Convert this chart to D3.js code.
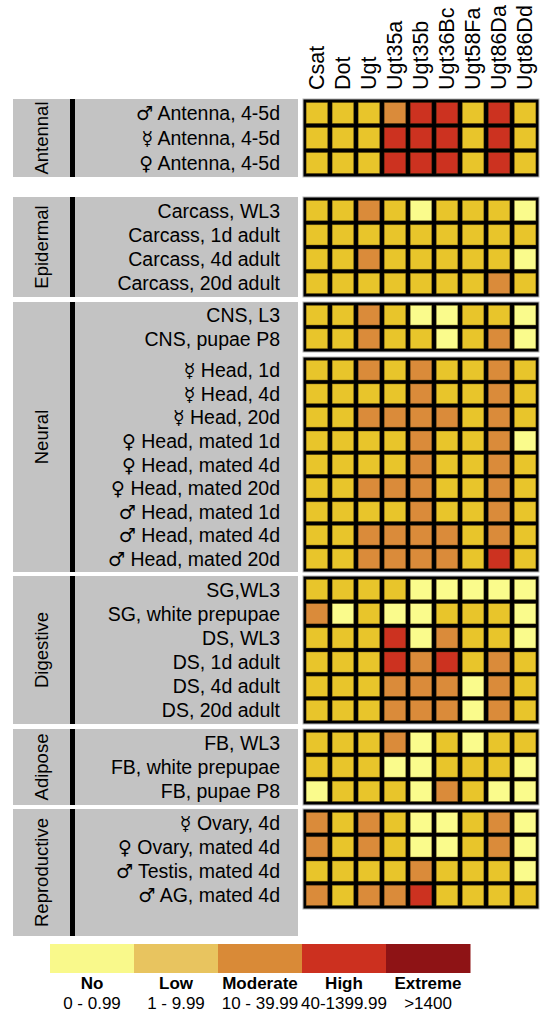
<!DOCTYPE html>
<html>
<head>
<meta charset="utf-8">
<script src="https://cdn.jsdelivr.net/npm/d3@7"></script>
<style>
  html, body { margin: 0; padding: 0; background: #fff; }
  svg { display: block; font-family: "Liberation Sans", Arial, Helvetica, sans-serif; }
</style>
</head>
<body>
<svg id="chart" width="544" height="1013"></svg>
<script>
// Genes (columns)
var genes = ["Csat", "Dot", "Ugt", "Ugt35a", "Ugt35b", "Ugt36Bc", "Ugt58Fa", "Ugt86Da", "Ugt86Dd"];

// Tissue groups (grey panels) and the heat blocks inside them
var panelNames = ["Antennal", "Epidermal", "Neural", "Digestive", "Adipose", "Reproductive"];
var blockSizes = [3, 4, 2, 9, 6, 3, 4];
var blockPanel = [0, 1, 2, 2, 3, 4, 5];

// Tissue labels (rows)
var tissues = [
  "\u2642 Antenna, 4-5d", "\u263F Antenna, 4-5d", "\u2640 Antenna, 4-5d",
  "Carcass, WL3", "Carcass, 1d adult", "Carcass, 4d adult", "Carcass, 20d adult",
  "CNS, L3", "CNS, pupae P8",
  "\u263F Head, 1d", "\u263F Head, 4d", "\u263F Head, 20d",
  "\u2640 Head, mated 1d", "\u2640 Head, mated 4d", "\u2640 Head, mated 20d",
  "\u2642 Head, mated 1d", "\u2642 Head, mated 4d", "\u2642 Head, mated 20d",
  "SG,WL3", "SG, white prepupae", "DS, WL3", "DS, 1d adult", "DS, 4d adult", "DS, 20d adult",
  "FB, WL3", "FB, white prepupae", "FB, pupae P8",
  "\u263F Ovary, 4d", "\u2640 Ovary, mated 4d", "\u2642 Testis, mated 4d", "\u2642 AG, mated 4d"
];

// Expression level per tissue x gene (0 No, 1 Low, 2 Moderate, 3 High, 4 Extreme)
var levels = [
  [1,1,1,2,3,3,1,3,1],
  [1,1,1,3,3,3,1,3,1],
  [1,1,1,3,3,3,1,3,1],
  [1,1,2,1,0,1,1,1,0],
  [1,1,1,1,1,1,1,1,1],
  [1,1,2,1,1,1,1,1,0],
  [1,1,1,1,1,1,1,2,1],
  [1,1,2,1,0,0,1,1,0],
  [1,1,2,1,1,0,1,2,0],
  [1,1,2,1,2,1,1,2,1],
  [1,1,1,1,2,1,1,2,1],
  [1,1,2,2,2,2,1,2,1],
  [1,1,1,1,2,1,1,2,0],
  [1,1,1,1,2,1,1,2,1],
  [1,1,2,2,2,1,1,2,1],
  [1,1,1,1,2,1,1,2,1],
  [1,1,2,2,2,2,1,2,1],
  [1,1,2,2,2,2,1,3,1],
  [1,1,1,1,0,0,0,0,0],
  [2,0,1,0,0,1,1,1,0],
  [1,1,1,3,0,2,1,1,0],
  [1,1,1,3,2,3,1,2,1],
  [1,1,1,2,2,2,0,2,1],
  [1,1,1,2,2,2,0,2,1],
  [1,1,1,2,0,1,0,1,1],
  [1,1,1,0,0,1,1,1,0],
  [0,1,1,1,0,2,1,0,0],
  [2,1,2,1,0,0,1,2,0],
  [2,1,2,1,0,0,1,2,0],
  [1,1,1,1,2,1,1,1,0],
  [2,1,2,2,3,1,1,1,1]
];

// Legend
var levelNames = ["No", "Low", "Moderate", "High", "Extreme"];
var levelRanges = ["0 - 0.99", "1 - 9.99", "10 - 39.99", "40-1399.99", ">1400"];
var cellColors = ["#fafb8c", "#e8c52b", "#da8b3a", "#cc3220", "#8e1315"];
var legendColors = ["#f9f98b", "#e8c45f", "#d98a37", "#cc301f", "#8e1315"];

// Layout
var blockTop = [99, 197, 302, 357, 576, 729, 809];
var blockBottom = [177, 297, 352, 572, 724, 805, 909];
var panelLeft = 13, panelRight = 298, barX = 70, barW = 5;
var heatLeft = 303, heatRight = 539;
var symbols = "\u2642\u2640\u263F";

var svg = d3.select("#chart");

var x = d3.scaleBand().domain(genes).range([heatLeft, heatRight])
  .paddingInner(0.17).paddingOuter(0.12);

var color = d3.scaleOrdinal().domain(d3.range(5)).range(cellColors);

// Filas por bloque
var blocks = [];
var start = 0;
blockSizes.forEach(function (n, b) {
  var rows = d3.range(start, start + n);
  var y = d3.scaleBand().domain(rows).range([blockTop[b], blockBottom[b]])
    .paddingInner(0.16).paddingOuter(0.14);
  blocks.push({ index: b, rows: rows, y: y, top: blockTop[b], bottom: blockBottom[b], panel: blockPanel[b] });
  start += n;
});

// Paneles grises
var panels = panelNames.map(function (name, p) {
  var bs = blocks.filter(function (d) { return d.panel === p; });
  var top = d3.min(bs, function (d) { return d.top; });
  var bottom = d3.max(bs, function (d) { return d.bottom; });
  if (name === "Reproductive") bottom = 936;
  return { name: name, top: top, bottom: bottom };
});

var panelG = svg.append("g").attr("class", "panels");

panelG.selectAll("rect.panel")
  .data(panels).enter().append("rect")
  .attr("class", "panel")
  .attr("x", panelLeft).attr("y", function (d) { return d.top; })
  .attr("width", panelRight - panelLeft)
  .attr("height", function (d) { return d.bottom - d.top; })
  .attr("fill", "#c3c3c3");

panelG.selectAll("rect.bar")
  .data(panels).enter().append("rect")
  .attr("class", "bar")
  .attr("x", barX).attr("y", function (d) { return d.top; })
  .attr("width", barW)
  .attr("height", function (d) { return d.bottom - d.top; })
  .attr("fill", "#000");

panelG.selectAll("text.group")
  .data(panels).enter().append("text")
  .attr("class", "group")
  .attr("transform", function (d) {
    return "translate(48," + ((d.top + d.bottom) / 2) + ") rotate(-90)";
  })
  .attr("text-anchor", "middle")
  .style("font-size", "18.5px")
  .style("fill", "#000")
  .text(function (d) { return d.name; });

// Etiquetas de tejido
blocks.forEach(function (blk) {
  var t = svg.append("g").selectAll("text")
    .data(blk.rows).enter().append("text")
    .attr("x", 280)
    .attr("y", function (r) { return blk.y(r) + blk.y.bandwidth() / 2; })
    .attr("dy", "0.36em")
    .attr("text-anchor", "end")
    .style("font-size", "19.5px")
    .style("fill", "#000");

  t.each(function (r) {
    var label = tissues[r];
    var el = d3.select(this);
    if (symbols.indexOf(label[0]) >= 0) {
      el.append("tspan")
        .style("font-family", "'DejaVu Sans', sans-serif")
        .style("font-size", "19px")
        .text(label[0]);
      el.append("tspan").text(label.slice(1));
    } else {
      el.text(label);
    }
  });
});

// Bloques del heatmap
blocks.forEach(function (blk) {
  var g = svg.append("g").attr("class", "block");
  g.append("rect")
    .attr("x", heatLeft).attr("y", blk.top)
    .attr("width", heatRight - heatLeft)
    .attr("height", blk.bottom - blk.top)
    .attr("fill", "#000")
    .attr("stroke", "#b5b5b5").attr("stroke-width", 1);

  var cells = [];
  blk.rows.forEach(function (r) {
    genes.forEach(function (gname, c) {
      cells.push({ row: r, gene: gname, level: levels[r][c] });
    });
  });

  g.selectAll("rect.cell")
    .data(cells).enter().append("rect")
    .attr("class", "cell")
    .attr("x", function (d) { return x(d.gene); })
    .attr("y", function (d) { return blk.y(d.row); })
    .attr("width", x.bandwidth())
    .attr("height", blk.y.bandwidth())
    .attr("fill", function (d) { return color(d.level); })
    .attr("stroke", "rgba(60,40,0,0.45)")
    .attr("stroke-width", 0.8);
});

// Encabezados de columnas
svg.append("g").selectAll("text")
  .data(genes).enter().append("text")
  .attr("transform", function (d) {
    return "translate(" + (x(d) + x.bandwidth() / 2 + 7) + ",90) rotate(-90)";
  })
  .attr("text-anchor", "start")
  .style("font-size", "21.5px")
  .style("fill", "#000")
  .text(function (d) { return d; });

// Leyenda
var lx = d3.scaleBand().domain(d3.range(5)).range([50, 470]);
var legend = svg.append("g").attr("class", "legend");

legend.selectAll("rect")
  .data(d3.range(5)).enter().append("rect")
  .attr("x", function (d) { return lx(d); })
  .attr("y", 944)
  .attr("width", lx.bandwidth() + 0.5)
  .attr("height", 29)
  .attr("fill", function (d) { return legendColors[d]; });

legend.selectAll("text.name")
  .data(d3.range(5)).enter().append("text")
  .attr("class", "name")
  .attr("x", function (d) { return lx(d) + lx.bandwidth() / 2; })
  .attr("y", 989)
  .attr("text-anchor", "middle")
  .style("font-size", "17px")
  .style("font-weight", "bold")
  .style("fill", "#000")
  .text(function (d) { return levelNames[d]; });

legend.selectAll("text.range")
  .data(d3.range(5)).enter().append("text")
  .attr("class", "range")
  .attr("x", function (d) { return lx(d) + lx.bandwidth() / 2; })
  .attr("y", 1009)
  .attr("text-anchor", "middle")
  .style("font-size", "17px")
  .style("fill", "#000")
  .text(function (d) { return levelRanges[d]; });
</script>
</body>
</html>
